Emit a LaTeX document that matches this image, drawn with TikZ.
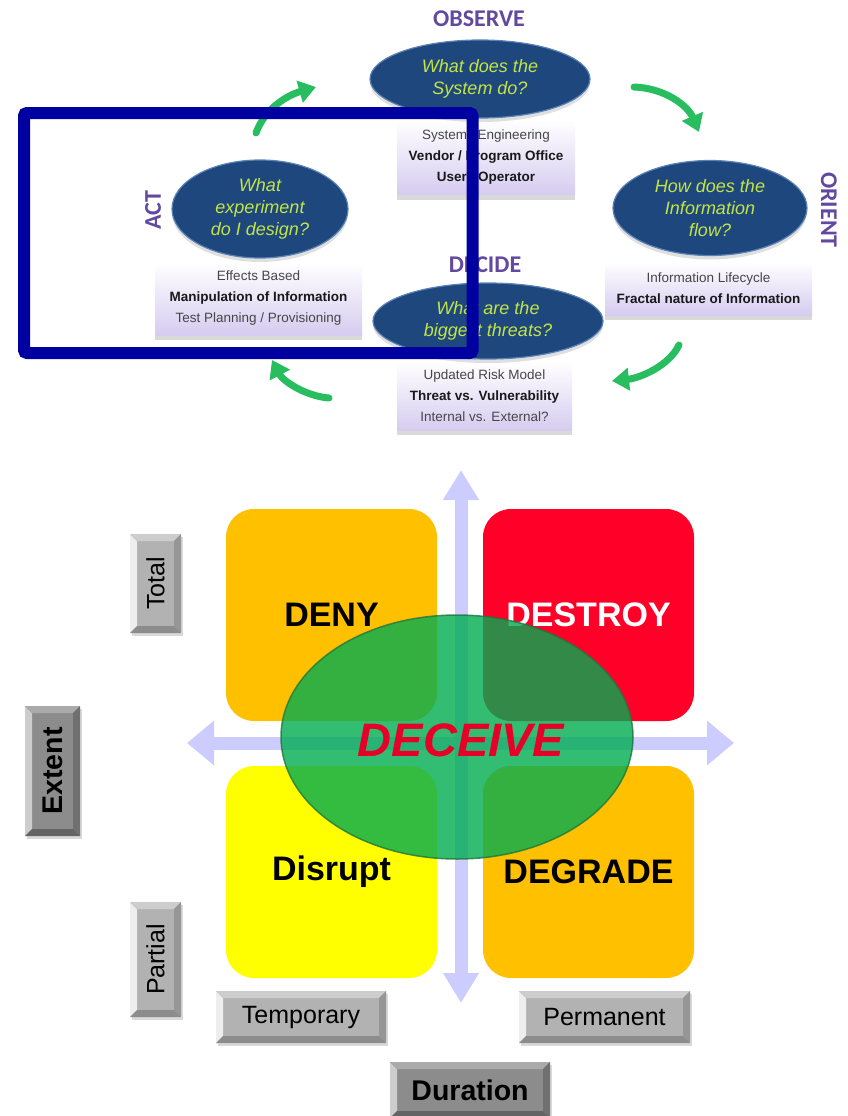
\documentclass[tikz,border=0pt]{standalone}
\usepackage{fontspec}
\setmainfont{Liberation Sans}
\newfontfamily\titlefont{Carlito}
\usetikzlibrary{shapes.geometric,arrows.meta,shadows}

% palette
\definecolor{qnavy}{RGB}{30,72,125}
\definecolor{qedge}{RGB}{90,130,180}
\definecolor{qtext}{RGB}{195,228,70}
\definecolor{lav}{RGB}{214,204,240}
\definecolor{notegray}{RGB}{70,70,70}
\definecolor{notebold}{RGB}{25,25,25}
\definecolor{phasepurple}{RGB}{98,72,158}
\definecolor{cycgreen}{RGB}{40,190,95}
\definecolor{frameblue}{RGB}{0,0,160}
\definecolor{axislav}{RGB}{204,204,255}
\definecolor{qorange}{RGB}{255,192,0}
\definecolor{qred}{RGB}{255,0,40}
\definecolor{qyellow}{RGB}{255,255,0}
\definecolor{dgreen}{RGB}{0,172,80}
\definecolor{dgreenedge}{RGB}{30,120,60}
\definecolor{dred}{RGB}{230,0,40}
\definecolor{lface}{RGB}{178,178,178}
\definecolor{ltop}{RGB}{205,205,205}
\definecolor{lleft}{RGB}{238,238,238}
\definecolor{lright}{RGB}{150,150,150}
\definecolor{lbot}{RGB}{140,140,140}
\definecolor{dface}{RGB}{140,140,140}
\definecolor{dtop}{RGB}{170,170,170}
\definecolor{dleft}{RGB}{205,205,205}
\definecolor{dright}{RGB}{112,112,112}
\definecolor{dbot}{RGB}{100,100,100}

% four bevel faces of a button: left, top, right, bottom
\newcommand\bevelfaces[4]{%
  \fill[#1] (path picture bounding box.north west)
    -- ([xshift=7pt,yshift=-7pt]path picture bounding box.north west)
    -- ([xshift=7pt,yshift=7pt]path picture bounding box.south west)
    -- (path picture bounding box.south west) -- cycle;
  \fill[#2] (path picture bounding box.north west)
    -- (path picture bounding box.north east)
    -- ([xshift=-7pt,yshift=-7pt]path picture bounding box.north east)
    -- ([xshift=7pt,yshift=-7pt]path picture bounding box.north west) -- cycle;
  \fill[#3] (path picture bounding box.north east)
    -- (path picture bounding box.south east)
    -- ([xshift=-7pt,yshift=7pt]path picture bounding box.south east)
    -- ([xshift=-7pt,yshift=-7pt]path picture bounding box.north east) -- cycle;
  \fill[#4] (path picture bounding box.south west)
    -- (path picture bounding box.south east)
    -- ([xshift=-7pt,yshift=7pt]path picture bounding box.south east)
    -- ([xshift=7pt,yshift=7pt]path picture bounding box.south west) -- cycle;
}

\tikzset{
  question/.style={ellipse, fill=qnavy, draw=qedge, line width=1.2pt,
    inner sep=0pt, text=qtext, align=center,
    font=\itshape\fontsize{18}{22}\selectfont,
    drop shadow={shadow xshift=0pt, shadow yshift=-4pt, opacity=0.25}},
  note/.style={rectangle, top color=white, bottom color=lav, inner sep=0pt,
    align=center, text=notegray, font=\fontsize{13.5}{21}\selectfont,
    drop shadow={shadow xshift=0pt, shadow yshift=-5pt, opacity=0.3}},
  phase/.style={font=\titlefont\bfseries\fontsize{24}{24}\selectfont,
    text=phasepurple, inner sep=0pt},
  cycle arrow/.style={line width=7pt, color=cycgreen, line cap=round,
    -{Triangle[width=22pt,length=17pt]}},
  focusframe/.style={draw=frameblue, line width=12pt, rounded corners=3pt,
    inner sep=0pt},
  axis/.style={line width=13pt, color=axislav},
  quad/.style={rounded corners=28pt, minimum width=211pt,
    minimum height=212pt, inner sep=0pt,
    font=\bfseries\fontsize{34}{34}\selectfont},
  btnbase/.style={rectangle, inner sep=0pt,
    drop shadow={shadow xshift=1.5pt, shadow yshift=-2.5pt, opacity=0.3}},
  lightbtn/.style={btnbase, fill=lface,
    path picture={\bevelfaces{lleft}{ltop}{lright}{lbot}}},
  darkbtn/.style={btnbase, fill=dface,
    path picture={\bevelfaces{dleft}{dtop}{dright}{dbot}}},
  btnlabel/.style={font=\fontsize{25}{25}\selectfont, inner sep=0pt},
  btnbold/.style={font=\bfseries\fontsize{28.5}{28.5}\selectfont, inner sep=0pt},
}

\begin{document}
\begin{tikzpicture}[x=1pt,y=-1pt]
\useasboundingbox (0,0) rectangle (848,1116);

% ---------- OODA cycle ----------
\coordinate (a1s) at (256,133); \coordinate (a1e) at (316,87);
\coordinate (a2s) at (634,87);  \coordinate (a2e) at (699,132);
\coordinate (a3s) at (679,345); \coordinate (a3e) at (612,381);
\coordinate (a4s) at (329,398); \coordinate (a4e) at (272,360);
\draw[cycle arrow] (a1s) .. controls (265,108) and (288,95) .. (a1e);
\draw[cycle arrow] (a2s) .. controls (665,88) and (688,106) .. (a2e);
\draw[cycle arrow] (a3s) .. controls (669,366) and (640,378) .. (a3e);
\draw[cycle arrow] (a4s) .. controls (305,396) and (283,381) .. (a4e);

\node[note, minimum width=178pt, minimum height=75pt] (obsnote) at (486,157)
  {Systems Engineering\\\textbf{\color{notebold}Vendor / Program Office}\\\textbf{\color{notebold}User / Operator}};
\node[note, minimum width=207pt, minimum height=53pt] (orinote) at (708.5,288.5)
  {Information Lifecycle\\\textbf{\color{notebold}Fractal nature of Information}};
\node[note, minimum width=207pt, minimum height=73pt] (actnote) at (258.5,298.5)
  {Effects Based\\\textbf{\color{notebold}Manipulation of Information}\\Test Planning / Provisioning};
\node[note, minimum width=175pt, minimum height=68pt] (decnote) at (484.5,396)
  {Updated Risk Model\\\textbf{\color{notebold}Threat vs. Vulnerability}\\Internal vs. External?};

\node[question, minimum width=220pt, minimum height=78pt] (obsq) at (480,79)
  {What does the\\System do?};
\node[question, minimum width=194pt, minimum height=95pt] (oriq) at (710,208)
  {How does the\\Information\\flow?};
\node[question, minimum width=176pt, minimum height=98pt] (actq) at (260,209)
  {What\\experiment\\do I design?};
\node[question, minimum width=230pt, minimum height=76pt] (decq) at (488,321)
  {What are the\\biggest threats?};

\node[phase] (observe) at (479,19) {OBSERVE};
\node[phase, rotate=-90] (orient) at (829,210) {ORIENT};
\node[phase] (decide) at (485,265) {DECIDE};
\node[phase, rotate=90] (act) at (153,210) {ACT};

\node[focusframe, minimum width=448.5pt, minimum height=240pt] (focus) at (248.25,233) {};

% ---------- effects matrix ----------
\coordinate (vt) at (461,470);  \coordinate (vb) at (461,1003);
\coordinate (hl) at (187,743);  \coordinate (hr) at (734,743);
\draw[axis, {Triangle[width=34pt,length=30pt]}-{Triangle[width=34pt,length=30pt]}] (vt) -- (vb);
\draw[axis, {Triangle[width=43pt,length=27pt]}-{Triangle[width=43pt,length=27pt]}] (hl) -- (hr);

\node[quad, fill=qorange] (deny) at (331.5,615) {DENY};
\node[quad, fill=qred, text=white] (destroy) at (588.5,615) {DESTROY};
\node[quad, fill=qyellow] (disrupt) at (331.5,872) {Disrupt};
\node[quad, fill=qorange] (degrade) at (588.5,872) {DEGRADE};

\node[ellipse, minimum width=352pt, minimum height=244pt, inner sep=0pt,
  fill=dgreen, fill opacity=0.8, draw=dgreenedge, draw opacity=0.8,
  line width=1.5pt] (deceive) at (457,737) {};
\node[text=dred, font=\bfseries\itshape\fontsize{47}{47}\selectfont,
  inner sep=0pt] (deceivelbl) at (461,740) {DECEIVE};

% axis buttons
\node[lightbtn, minimum width=51pt, minimum height=99pt] (total) at (155.5,583.5) {};
\node[btnlabel, rotate=90] (totallbl) at (total) {Total};
\node[darkbtn, minimum width=55pt, minimum height=130pt] (extent) at (52.5,771) {};
\node[btnbold, rotate=90] (extentlbl) at (extent) {Extent};
\node[lightbtn, minimum width=51pt, minimum height=115pt] (partial) at (155.5,959.5) {};
\node[btnlabel, rotate=90] (partiallbl) at (partial) {Partial};
\node[lightbtn, minimum width=170pt, minimum height=52pt] (temporary) at (301,1017) {};
\node[btnlabel] (temporarylbl) at (temporary) {Temporary};
\node[lightbtn, minimum width=171pt, minimum height=52pt] (permanent) at (604.5,1017) {};
\node[btnlabel] (permanentlbl) at (permanent) {Permanent};
\node[darkbtn, minimum width=160pt, minimum height=56pt] (duration) at (470,1090) {};
\node[btnbold] (durationlbl) at (duration) {Duration};
\end{tikzpicture}
\end{document}
